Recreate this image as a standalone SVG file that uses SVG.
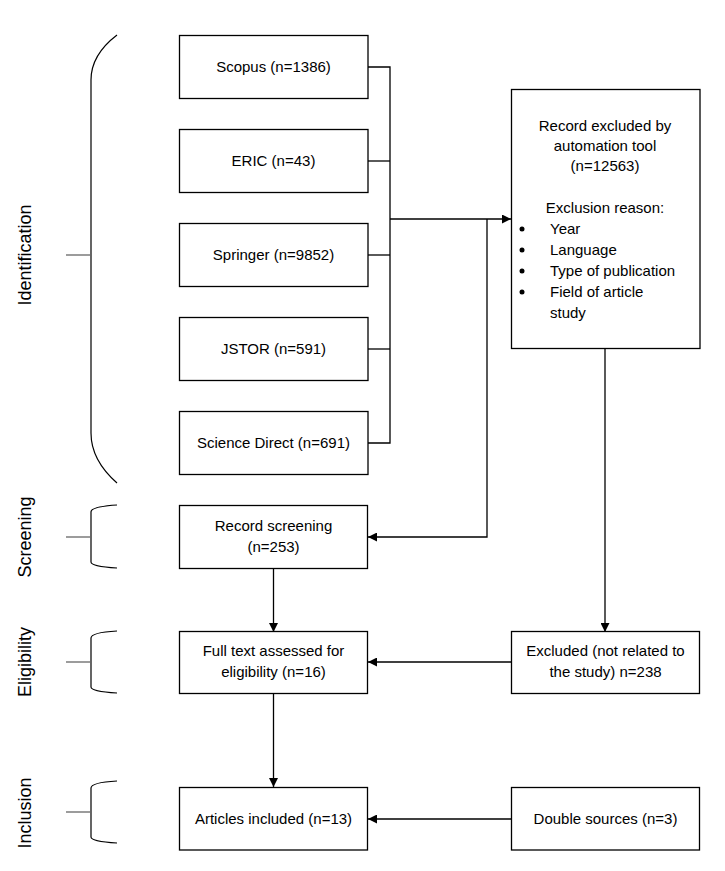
<svg xmlns="http://www.w3.org/2000/svg" width="725" height="871" viewBox="0 0 725 871">
<style>
.box{fill:#fff;stroke:#000;stroke-width:1.3}
.t{font-family:"Liberation Sans",Arial,sans-serif;font-size:15px;fill:#000;text-anchor:middle}
.tl{font-family:"Liberation Sans",Arial,sans-serif;font-size:15px;fill:#000}
.lab{font-family:"Liberation Sans",Arial,sans-serif;font-size:18px;fill:#000;text-anchor:middle}
.ln{fill:none;stroke:#000;stroke-width:1.3}
.br{fill:none;stroke:#000;stroke-width:1.2}
.tick{fill:none;stroke:#666;stroke-width:1.3}
</style>
<defs>
<marker id="ah" viewBox="0 0 10 10" refX="10" refY="5" markerWidth="9" markerHeight="9" markerUnits="userSpaceOnUse" orient="auto">
<path d="M0,0 L10,5 L0,10 z" fill="#000"/>
</marker>
</defs>
<rect width="725" height="871" fill="#fff"/>

<g id="phases">
<g id="phase-identification">
<path class="br" d="M117,35 C100,48 91,64 91,80 L91,433 C91,450 100,468 117,483"/>
<line class="tick" x1="66" y1="255" x2="91" y2="255"/>
<text class="lab" transform="translate(31,255) rotate(-90)">Identification</text>
</g>
<g id="phase-screening">
<path class="br" d="M117,505 C100,506 91,508 91,512 L91,562 C91,565 100,567 117,568"/>
<line class="tick" x1="66" y1="537" x2="91" y2="537"/>
<text class="lab" transform="translate(31,537) rotate(-90)">Screening</text>
</g>
<g id="phase-eligibility">
<path class="br" d="M117,631 C100,632 91,634 91,638 L91,687 C91,690 100,692 117,693"/>
<line class="tick" x1="66" y1="662" x2="91" y2="662"/>
<text class="lab" transform="translate(31,662) rotate(-90)">Eligibility</text>
</g>
<g id="phase-inclusion">
<path class="br" d="M117,781 C100,782 91,784 91,788 L91,837 C91,840 100,842 117,843"/>
<line class="tick" x1="66" y1="812" x2="91" y2="812"/>
<text class="lab" transform="translate(31,813) rotate(-90)">Inclusion</text>
</g>
</g>

<g id="connectors">
<polyline class="ln" points="368,67 390,67 390,443 368,443"/>
<line class="ln" x1="368" y1="161" x2="390" y2="161"/>
<line class="ln" x1="368" y1="255" x2="390" y2="255"/>
<line class="ln" x1="368" y1="349" x2="390" y2="349"/>
<line class="ln" x1="390" y1="219" x2="511" y2="219" marker-end="url(#ah)"/>
<polyline class="ln" points="487,219 487,537 368,537" marker-end="url(#ah)"/>
<line class="ln" x1="605" y1="348" x2="605" y2="632" marker-end="url(#ah)"/>
<line class="ln" x1="273.5" y1="568" x2="273.5" y2="632" marker-end="url(#ah)"/>
<line class="ln" x1="273.5" y1="693" x2="273.5" y2="787" marker-end="url(#ah)"/>
<line class="ln" x1="512" y1="662" x2="368" y2="662" marker-end="url(#ah)"/>
<line class="ln" x1="512" y1="819" x2="368" y2="819" marker-end="url(#ah)"/>
</g>

<g id="scopus"><rect class="box" x="179.5" y="35.5" width="188.5" height="63"/><text class="t" x="273.5" y="72">Scopus (n=1386)</text></g>
<g id="eric"><rect class="box" x="179.5" y="129.5" width="188.5" height="63"/><text class="t" x="273.5" y="166">ERIC (n=43)</text></g>
<g id="springer"><rect class="box" x="179.5" y="223.5" width="188.5" height="63"/><text class="t" x="273.5" y="260">Springer (n=9852)</text></g>
<g id="jstor"><rect class="box" x="179.5" y="317.5" width="188.5" height="63"/><text class="t" x="273.5" y="354">JSTOR (n=591)</text></g>
<g id="sciencedirect"><rect class="box" x="179.5" y="411.5" width="188.5" height="63"/><text class="t" x="273.5" y="448">Science Direct (n=691)</text></g>

<g id="excluded-auto">
<rect class="box" x="511.5" y="89.5" width="188.5" height="259"/>
<text class="t" x="605" y="131">Record excluded by</text>
<text class="t" x="605" y="151">automation tool</text>
<text class="t" x="605" y="171">(n=12563)</text>
<text class="t" x="605" y="213">Exclusion reason:</text>
<circle cx="522" cy="229" r="2.5" fill="#000"/><text class="tl" x="550" y="234">Year</text>
<circle cx="522" cy="250" r="2.5" fill="#000"/><text class="tl" x="550" y="255">Language</text>
<circle cx="522" cy="271" r="2.5" fill="#000"/><text class="tl" x="550" y="276">Type of publication</text>
<circle cx="522" cy="292" r="2.5" fill="#000"/><text class="tl" x="550" y="297">Field of article</text>
<text class="tl" x="550" y="318">study</text>
</g>

<g id="screening"><rect class="box" x="179.5" y="505.5" width="188" height="63"/><text class="t" x="273.5" y="531">Record screening</text><text class="t" x="273.5" y="552">(n=253)</text></g>
<g id="fulltext"><rect class="box" x="179.5" y="631.5" width="188" height="62"/><text class="t" x="273.5" y="656">Full text assessed for</text><text class="t" x="273.5" y="677">eligibility (n=16)</text></g>
<g id="included"><rect class="box" x="179.5" y="787.5" width="188" height="62.5"/><text class="t" x="273.5" y="824">Articles included (n=13)</text></g>
<g id="excluded-notrelated"><rect class="box" x="511.5" y="631.5" width="188" height="62"/><text class="t" x="605.5" y="656">Excluded (not related to</text><text class="t" x="605.5" y="677">the study) n=238</text></g>
<g id="double"><rect class="box" x="511.5" y="787.5" width="188" height="62.5"/><text class="t" x="605.5" y="824">Double sources (n=3)</text></g>
</svg>
